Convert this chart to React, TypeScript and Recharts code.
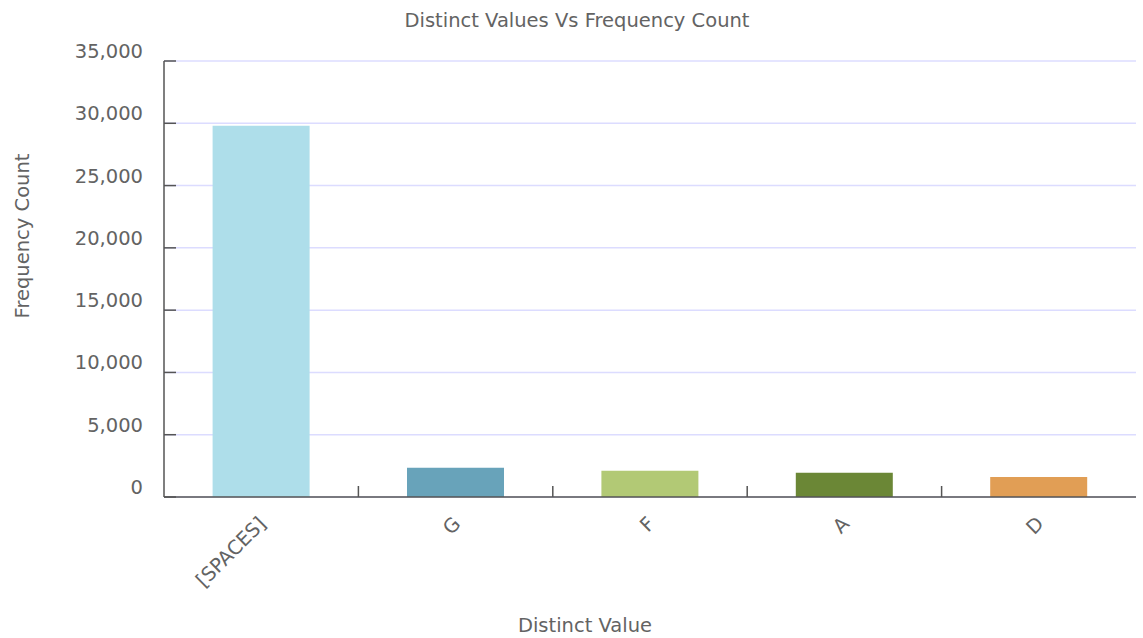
import { BarChart, Bar, Cell, XAxis, YAxis, CartesianGrid } from "recharts";

const categories = ["[SPACES]", "G", "F", "A", "D"];
const counts = [29800, 2350, 2100, 1950, 1600];
const yTicks = [0, 5000, 10000, 15000, 20000, 25000, 30000, 35000];
const barColors = ["#aedeea", "#68a3ba", "#b2c975", "#6b8736", "#e19e55"];

const data = categories.map((name, i) => ({ name, count: counts[i] }));

const FONT = "'DejaVu Sans', Verdana, sans-serif";
const TEXT = "#636363";
const AXIS = "#555";

const CHART_W = 1143;
const CHART_H = 638;
const Y_AXIS_W = 164;
const RIGHT = 7;

function XTick(props: any) {
  const { x, y, payload, index, visibleTicksCount, width } = props;
  const count = visibleTicksCount || categories.length;
  const band = (width || CHART_W - Y_AXIS_W - RIGHT) / count;
  return (
    <g>
      {index < count - 1 && (
        <line x1={x + band / 2} x2={x + band / 2} y1={y} y2={y - 11} stroke={AXIS} strokeWidth={1.5} />
      )}
      <text
        x={x + 6}
        y={y + 28}
        transform={`rotate(-45, ${x + 6}, ${y + 28})`}
        textAnchor="end"
        fill={TEXT}
        fontSize={19.5}
        fontFamily={FONT}
      >
        {payload.value}
      </text>
    </g>
  );
}

function YTick(props: any) {
  const { x, y, payload } = props;
  return (
    <g>
      <line x1={x} x2={x + 12} y1={y} y2={y} stroke={AXIS} strokeWidth={1.5} />
      <text x={x - 21} y={y - 3} textAnchor="end" fill={TEXT} fontSize={19.5} fontFamily={FONT}>
        {payload.value.toLocaleString("en-US")}
      </text>
    </g>
  );
}

export default function App() {
  return (
    <div style={{ position: "absolute", left: 0, top: 0, width: CHART_W, height: CHART_H, background: "#fff" }}>
      <div
        style={{
          position: "absolute",
          left: 0,
          top: 11,
          width: 1154,
          textAlign: "center",
          fontFamily: FONT,
          fontSize: 19.5,
          lineHeight: "20px",
          color: TEXT,
        }}
      >
        Distinct Values Vs Frequency Count
      </div>
      <BarChart
        width={CHART_W}
        height={CHART_H}
        data={data}
        margin={{ top: 61, right: RIGHT, left: 0, bottom: 0 }}
        barCategoryGap="25%"
      >
        <CartesianGrid horizontal vertical={false} stroke="#dcdcff" strokeWidth={1.5} />
        <XAxis
          dataKey="name"
          height={141}
          tickLine={false}
          tickSize={0}
          tickMargin={0}
          interval={0}
          axisLine={{ stroke: AXIS, strokeWidth: 1.5 }}
          tick={<XTick />}
          label={{
            content: () => (
              <text x={585} y={632} textAnchor="middle" fill={TEXT} fontSize={19.5} fontFamily={FONT}>
                Distinct Value
              </text>
            ),
          }}
        />
        <YAxis
          width={Y_AXIS_W}
          domain={[0, 35000]}
          ticks={yTicks}
          tickLine={false}
          tickSize={0}
          tickMargin={0}
          axisLine={{ stroke: AXIS, strokeWidth: 1.5 }}
          tick={<YTick />}
          label={{
            content: () => (
              <text
                x={29}
                y={236}
                transform="rotate(-90, 29, 236)"
                textAnchor="middle"
                fill={TEXT}
                fontSize={19.5}
                fontFamily={FONT}
              >
                Frequency Count
              </text>
            ),
          }}
        />
        <Bar dataKey="count" isAnimationActive={false}>
          {data.map((d, i) => (
            <Cell key={d.name} fill={barColors[i]} />
          ))}
        </Bar>
      </BarChart>
    </div>
  );
}
